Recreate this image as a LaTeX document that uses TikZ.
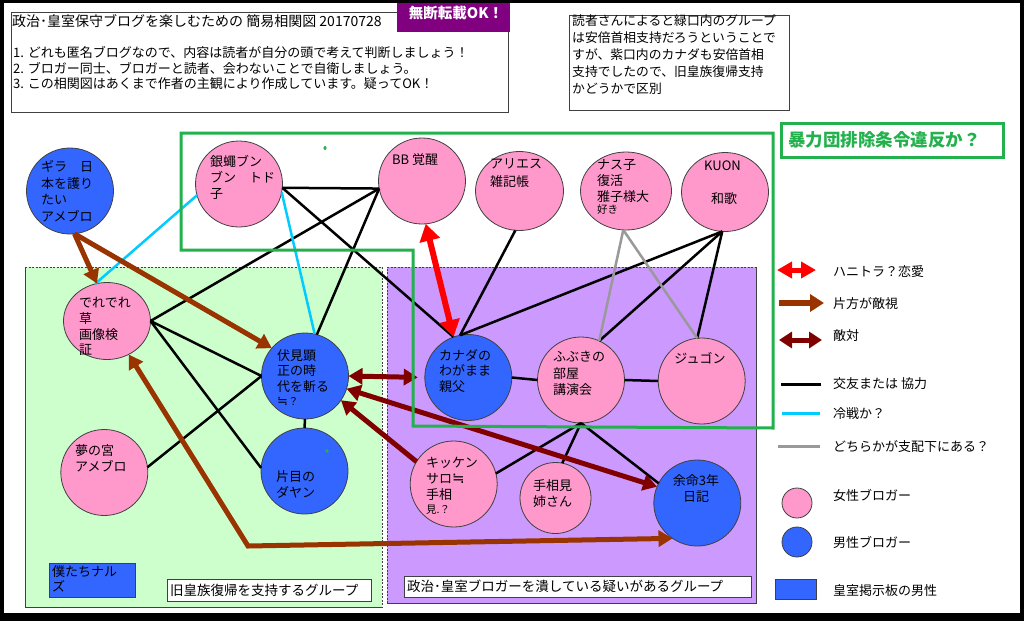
\documentclass[tikz,border=0pt]{standalone}
\usepackage{fontspec}
\setmainfont{Noto Sans CJK JP}
\newfontfamily\symfont{DejaVu Sans}
\usetikzlibrary{arrows.meta,shapes.geometric}
\definecolor{pinkc}{HTML}{FF99CC}
\definecolor{bluec}{HTML}{3366FF}
\definecolor{lgreen}{HTML}{CCFFCC}
\definecolor{lpurple}{HTML}{CC99FF}
\definecolor{greenc}{HTML}{22B14C}
\definecolor{brownc}{HTML}{993300}
\definecolor{darkredc}{HTML}{800000}
\definecolor{cyanc}{HTML}{00CCFF}
\definecolor{grayc}{HTML}{999999}
\definecolor{purplec}{HTML}{800080}
\definecolor{edgec}{HTML}{404040}
\begin{document}
\begin{tikzpicture}[x=1pt,y=-1pt,
  person/.style={ellipse,draw=edgec,line width=0.8pt,minimum width=87pt,minimum height=86pt,inner sep=0pt,outer sep=0pt},
  fem/.style={person,fill=pinkc},
  mal/.style={person,fill=bluec},
  txt/.style={inner sep=0pt,anchor=base west,align=left,font=\fontsize{13}{15.8}\selectfont},
  smalltxt/.style={inner sep=0pt,anchor=base west,font=\fontsize{10.5}{11}\selectfont},
  link/.style={draw=black,line width=2.5pt},
  cold/.style={draw=cyanc,line width=2.5pt},
  dom/.style={draw=grayc,line width=2.5pt},
  hostile/.style={draw=brownc,line width=5pt,-{Triangle[length=14pt,width=16pt]}},
  hostiletwo/.style={draw=brownc,line width=5pt,{Triangle[length=14pt,width=16pt]}-{Triangle[length=14pt,width=16pt]}},
  enemy/.style={draw=darkredc,line width=5pt,{Triangle[length=14pt,width=16pt]}-{Triangle[length=14pt,width=16pt]}},
  enemyone/.style={draw=darkredc,line width=5pt,-{Triangle[length=14pt,width=16pt]}},
  love/.style={draw=red,line width=6pt,{Triangle[length=17pt,width=20pt]}-{Triangle[length=17pt,width=20pt]}},
  boxline/.style={draw=edgec,line width=0.8pt,fill=white},
  greenline/.style={draw=greenc,line width=3pt},
]
% frame
\fill[black] (0,0) rectangle (1024,621);
\fill[white] (4,3) rectangle (1020,613);
\useasboundingbox (0,0) rectangle (1024,621);

% group regions
\fill[lgreen] (25,267) rectangle (382,607);
\draw[edgec,line width=0.8pt] (25,267) -- (25,607) -- (382,607);
\draw[edgec,line width=0.8pt,dash pattern=on 2pt off 1.5pt] (25,267) -- (382,267) -- (382,607);
\fill[lpurple] (387,267) rectangle (756,603);
\draw[edgec,line width=0.8pt] (756,267) -- (756,603) -- (387,603);
\draw[edgec,line width=0.8pt,dash pattern=on 2pt off 1.5pt] (387,603) -- (387,267) -- (756,267);

% header boxes
\draw[boxline] (11,12) rectangle (508,112);
\fill[purplec] (397,3) rectangle (510,32);
\draw[boxline] (569,15) rectangle (789,110);
\draw[greenline,fill=white] (781,123) rectangle (1003,157);

% bloggers
\node[mal] (gira) at (70,191) {};
\node[fem,minimum height=77pt] (dere) at (107,321) {};
\node[fem] (gin) at (239,184) {};
\node[fem] (bb) at (422,181) {};
\node[fem,minimum width=88pt,minimum height=79pt] (aries) at (519.5,191) {};
\node[fem,minimum width=91pt,minimum height=78pt] (nasu) at (626,191) {};
\node[fem,minimum height=79pt] (kuon) at (725,192) {};
\node[mal] (fushimi) at (305,376) {};
\node[mal] (katame) at (304.5,471) {};
\node[fem] (yume) at (104.3,472.5) {};
\node[mal] (canada) at (468.3,377.5) {};
\node[fem] (fubuki) at (581,380) {};
\node[fem] (jugon) at (701.7,381) {};
\node[fem] (kikken) at (453.7,484) {};
\node[fem,minimum width=71pt,minimum height=71pt] (teso) at (555.5,498) {};
\node[mal] (yomei) at (697.3,503) {};

% friendship / cooperation
\draw[link] (gin.-5) -- (bb.190);
\draw[link] (gin.-5) -- (canada.110);
\draw[link] (bb.190) -- (dere.0);
\draw[link] (bb.190) -- (fushimi.74);
\draw[link] (dere.0) -- (fushimi.180);
\draw[link] (dere.0) -- (katame.176);
\draw[link] (yume.7) -- (fushimi.180);
\draw[link] (fushimi.south) -- (katame.north);
\draw[link] (canada.101) -- (aries.-96);
\draw[link] (canada.101) -- (kuon.-94);
\draw[link] (canada.east) -- (fubuki.west);
\draw[link] (fubuki.65) -- (kuon.-94);
\draw[link] (jugon.96) -- (kuon.-94);
\draw[link] (fubuki.east) -- (jugon.west);
\draw[link] (fubuki.south) -- (kikken.14);
\draw[link] (fubuki.south) -- (teso.79);
\draw[link] (fubuki.south) -- (yomei.153);
% cold war
\draw[cold] (gin.-11) -- (fushimi.77);
\draw[cold] (gin.195) -- (dere.108);
% domination
\draw[dom] (fubuki.65) -- (nasu.-94);
\draw[dom] (jugon.96) -- (nasu.-94);

% arrows
\draw[love] (bb.-85) -- (canada.110);
\draw[hostile] (gira.-84) -- (dere.105);
\draw[hostile] (gira.-84) -- (fushimi.140);
\coordinate (bend) at (248,546);
\draw[hostiletwo] (dere.-57) -- (bend) -- (yomei.235);
\draw[enemy,shorten >=7pt] (fushimi.east) -- (canada.west);
\draw[enemy] (fushimi.-17) -- (yomei.158);
\draw[enemyone] (kikken.149) -- (fushimi.-34);

% green outline
\draw[greenline] (181,133) -- (773,133) -- (773,428) -- (413,426) -- (413,250) -- (181,250) -- cycle;
\fill[greenc] (325,148) ellipse (1.5 and 2);
\fill[greenc] (327,451) circle (1.8);

% texts in circles (multi-line nodes anchored at the baseline of their last line)
\node[txt,font=\fontsize{13}{16.7}\selectfont] (tgira) at (41,221.6) {ギラ　日\\本を護り\\たい\\アメブロ};
\node[txt] (tdere) at (79,354.9) {でれでれ\\草\\画像検\\証};
\node[txt] (tgin) at (210,198.1) {銀蠅ブン\\ブン　トド\\子};
\node[txt] (tbb) at (392,164) {BB 覚醒};
\node[txt,font=\fontsize{13}{17.7}\selectfont] (taries) at (490,186) {アリエス\\雑記帳};
\node[txt,font=\fontsize{13}{16.3}\selectfont] (tnasu) at (597,201.6) {ナス子\\復活\\雅子様大};
\node[smalltxt] (tnasutwo) at (597,213.5) {好き};
\node[txt,anchor=base] (tkuon) at (722.5,170) {KUON};
\node[txt,anchor=base] (tkuontwo) at (724,203.3) {和歌};
\node[txt,font=\fontsize{13}{15.5}\selectfont] (tfushimi) at (277,391) {伏見顕\\正の時\\代を斬る};
\node[smalltxt] (tfushimitwo) at (277,405) {{\symfont\fontsize{13}{13}\selectfont ≒}？};
\node[txt] (tkatame) at (276,497.5) {片目の\\ダヤン};
\node[txt,font=\fontsize{13}{16}\selectfont] (tyume) at (75,471) {夢の宮\\アメブロ};
\node[txt] (tcanada) at (439,391.6) {カナダの\\わがまま\\親父};
\node[txt,font=\fontsize{13}{16.3}\selectfont] (tfubuki) at (553,394.3) {ふぶきの\\部屋\\講演会};
\node[txt,anchor=base] (tjugon) at (700,363.3) {ジュゴン};
\node[txt,font=\fontsize{13}{16}\selectfont] (tkikken) at (426,499.3) {キッケン\\サロ{\symfont\fontsize{15}{15}\selectfont ≒}\\手相};
\node[smalltxt] (tkikkentwo) at (426,513) {見.？};
\node[txt,font=\fontsize{13}{16.7}\selectfont] (tteso) at (533,506.7) {手相見\\姉さん};
\node[txt,anchor=base,align=center,font=\fontsize{13}{16.7}\selectfont] (tyomei) at (696,501.7) {余命3年\\日記};

% header texts
\node[txt,font=\fontsize{14}{16}\selectfont] (title) at (12,27) {政治･皇室保守ブログを楽しむための 簡易相関図 20170728};
\node[txt,font=\fontsize{13}{15.5}\selectfont] (rules) at (13,88.7) {1. どれも匿名ブログなので、内容は読者が自分の頭で考えて判断しましょう！\\2. ブロガー同士、ブロガーと読者、会わないことで自衛しましょう。\\3. この相関図はあくまで作者の主観により作成しています。疑ってOK！};
\node[inner sep=0pt,anchor=base,text=white,font=\bfseries\fontsize{14.5}{16}\selectfont] (mudan) at (456,18.5) {無断転載OK！};
\node[txt,font=\fontsize{12.8}{17}\selectfont] (note) at (572,93) {読者さんによると緑口内のグループ\\は安倍首相支持だろうということで\\すが、紫口内のカナダも安倍首相\\支持でしたので、旧皇族復帰支持\\かどうかで区別};
\node[inner sep=0pt,anchor=base west,text=greenc,font=\bfseries\fontsize{17.5}{20}\selectfont] (gtitle) at (788,146) {暴力団排除条令違反か？};

% group labels
\draw[boxline] (167,579) rectangle (371,601);
\node[txt,font=\fontsize{13.5}{15}\selectfont] (lblone) at (170,595) {旧皇族復帰を支持するグループ};
\draw[boxline] (404,576) rectangle (751,597);
\node[txt,font=\fontsize{13.5}{15}\selectfont] (lbltwo) at (407,591.5) {政治･皇室ブロガーを潰している疑いがあるグループ};
\node[draw=edgec,fill=bluec,line width=0.8pt,minimum width=86pt,minimum height=34pt,inner sep=0pt,anchor=north west] (naru) at (49,563) {};
\node[txt,font=\fontsize{13}{15}\selectfont] (tnaru) at (52,591.5) {僕たちナル\\ズ};

% legend
\coordinate (la1) at (777,270); \coordinate (la2) at (816,270);
\draw[love,line width=5pt,{Triangle[length=15pt,width=16pt]}-{Triangle[length=15pt,width=16pt]}] (la1) -- (la2);
\coordinate (lb1) at (779,303); \coordinate (lb2) at (824,303);
\draw[hostile,line width=6pt,-{Triangle[length=14pt,width=17pt]}] (lb1) -- (lb2);
\coordinate (lc1) at (779,340); \coordinate (lc2) at (822,340);
\draw[enemy,{Triangle[length=13pt,width=16pt]}-{Triangle[length=13pt,width=16pt]}] (lc1) -- (lc2);
\coordinate (ld1) at (781,384); \coordinate (ld2) at (821,384);
\draw[link,line width=3pt] (ld1) -- (ld2);
\coordinate (le1) at (782,413); \coordinate (le2) at (820,413);
\draw[cold,line width=3pt] (le1) -- (le2);
\coordinate (lf1) at (778,446); \coordinate (lf2) at (820,446);
\draw[dom,line width=3pt] (lf1) -- (lf2);
\node[ellipse,draw=edgec,fill=pinkc,line width=0.8pt,minimum size=30pt,inner sep=0pt] (lgf) at (797,503) {};
\node[ellipse,draw=edgec,fill=bluec,line width=0.8pt,minimum size=30pt,inner sep=0pt] (lgm) at (797,542) {};
\node[draw=edgec,fill=bluec,line width=0.8pt,minimum width=41pt,minimum height=20pt,inner sep=0pt] (lgb) at (795.5,589) {};
\node[txt] (lt1) at (833,276) {ハニトラ？恋愛};
\node[txt] (lt2) at (833,308) {片方が敵視};
\node[txt] (lt3) at (833,340) {敵対};
\node[txt] (lt4) at (833,388) {交友または 協力};
\node[txt] (lt5) at (833,418) {冷戦か？};
\node[txt] (lt6) at (833,451) {どちらかが支配下にある？};
\node[txt] (lt7) at (833,500) {女性ブロガー};
\node[txt] (lt8) at (833,547) {男性ブロガー};
\node[txt] (lt9) at (833,595) {皇室掲示板の男性};
\end{tikzpicture}
\end{document}
